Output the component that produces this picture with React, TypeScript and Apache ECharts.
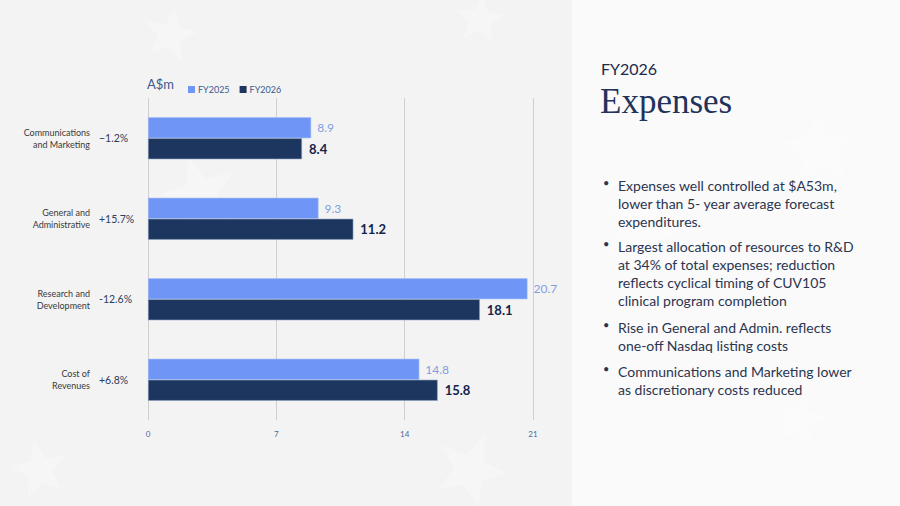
import { useEffect, useRef } from 'react';
import * as echarts from 'echarts';

const categories = ['Communications\nand Marketing', 'General and\nAdministrative', 'Research and\nDevelopment', 'Cost of\nRevenues'];
const changes = ['\u22121.2%', '+15.7%', '-12.6%', '+6.8%'];
const fy2025 = [8.9, 9.3, 20.7, 14.8];
const fy2026 = [8.4, 11.2, 18.1, 15.8];
const xTicks = { min: 0, max: 21, interval: 7 };

const bullets = [
  'Expenses well controlled at $A53m,\nlower than 5- year average forecast\nexpenditures.',
  'Largest allocation of resources to R&D\nat 34% of total expenses; reduction\nreflects cyclical timing of CUV105\nclinical program completion',
  'Rise in General and Admin. reflects\none-off Nasdaq listing costs',
  'Communications and Marketing lower\nas discretionary costs reduced',
];

const LIGHT = '#6f96f6';
const DARK = '#1d365f';
const SANS = 'Lato, "Noto Sans", sans-serif';

// faint decorative stars in the background
const starPoints = (cx: number, cy: number, r: number, rot: number) => {
  const pts: number[][] = [];
  for (let i = 0; i < 10; i++) {
    const rad = i % 2 === 0 ? r : r * 0.42;
    const a = rot + (Math.PI * i) / 5 - Math.PI / 2;
    pts.push([cx + rad * Math.cos(a), cy + rad * Math.sin(a)]);
  }
  return pts;
};
const stars = [
  [170, 35, 28, 0.2], [200, 195, 40, -0.3], [480, 20, 26, 0.1], [470, 470, 38, 0.4],
  [40, 470, 30, -0.2], [640, 230, 45, 0.3], [820, 150, 40, -0.1], [800, 420, 28, 0.2],
];

export default function App() {
  const ref = useRef<HTMLDivElement>(null);

  useEffect(() => {
    if (!ref.current) return;
    const chart = echarts.init(ref.current, undefined, { renderer: 'svg' });

    const bulletTops = [176, 237, 318, 362];
    const bulletEls: any[] = [];
    bullets.forEach((b, i) => {
      bulletEls.push({
        type: 'text', left: 603, top: bulletTops[i] + 1, z: 5,
        style: { text: '\u2022', font: `11px ${SANS}`, fill: '#2b3550' },
      });
      bulletEls.push({
        type: 'text', left: 618, top: bulletTops[i], z: 5,
        style: { text: b, font: `14px ${SANS}`, fill: '#2b3550', lineHeight: 18 },
      });
    });

    const starEls = stars.map(([x, y, r, rot]) => ({
      type: 'polygon', z: -5, silent: true,
      shape: { points: starPoints(x, y, r, rot) },
      style: { fill: 'rgba(255,255,255,0.3)' },
    }));

    chart.setOption({
      animation: false,
      backgroundColor: '#f3f3f3',
      textStyle: { fontFamily: SANS },
      graphic: [
        { type: 'rect', z: -10, shape: { x: 572, y: 0, width: 328, height: 506 }, style: { fill: '#fafafa' } },
        ...starEls,
        { type: 'text', left: 601, top: 60, z: 5, style: { text: 'FY2026', font: `16px ${SANS}`, fill: '#1b2a4a' } },
        { type: 'text', left: 600, top: 84, z: 5, style: { text: 'Expenses', font: '35px "Liberation Serif", serif', fill: '#22325a' } },
        { type: 'text', left: 147, top: 77, z: 5, style: { text: 'A$m', font: `13px ${SANS}`, fill: '#3c5a8c' } },
        ...bulletEls,
      ],
      legend: {
        left: 183, top: 80,
        itemWidth: 7, itemHeight: 7, itemGap: 10,
        icon: 'rect',
        itemStyle: { borderWidth: 0 },
        textStyle: { color: '#3c5a8c', fontSize: 9, padding: [0, 0, 0, -2] },
        data: ['FY2025', 'FY2026'],
      },
      grid: { left: 148, top: 98, width: 385, height: 322, containLabel: false },
      xAxis: {
        type: 'value', ...xTicks,
        axisLine: { show: false }, axisTick: { show: false },
        axisLabel: { color: '#4a6aa0', fontSize: 8, margin: 10 },
        splitLine: { lineStyle: { color: '#cfcfcf', width: 1 } },
      },
      yAxis: [
        {
          type: 'category', inverse: true, data: categories,
          axisLine: { show: false }, axisTick: { show: false },
          axisLabel: { color: '#3a3a3a', fontSize: 9, lineHeight: 12, margin: 58, align: 'right' },
        },
        {
          type: 'category', inverse: true, data: changes, position: 'left',
          axisLine: { show: false }, axisTick: { show: false },
          axisLabel: { color: '#2d3d5c', fontSize: 10.5, margin: 49, align: 'left' },
        },
      ],
      series: [
        {
          name: 'FY2025', type: 'bar', data: fy2025, barWidth: 21, barGap: '0%',
          itemStyle: { color: LIGHT, borderColor: '#a9c0f7', borderWidth: 0.6 },
          label: { show: true, position: 'right', distance: 6, color: '#7f9fe0', fontSize: 12 },
        },
        {
          name: 'FY2026', type: 'bar', data: fy2026, barWidth: 21,
          itemStyle: { color: DARK, borderColor: '#8fa2c0', borderWidth: 0.6 },
          label: { show: true, position: 'right', distance: 7, color: '#13244a', fontSize: 13, fontWeight: 'bold' },
        },
      ],
    });

    return () => chart.dispose();
  }, []);

  return <div ref={ref} style={{ position: 'absolute', left: 0, top: 0, width: 900, height: 506 }} />;
}
